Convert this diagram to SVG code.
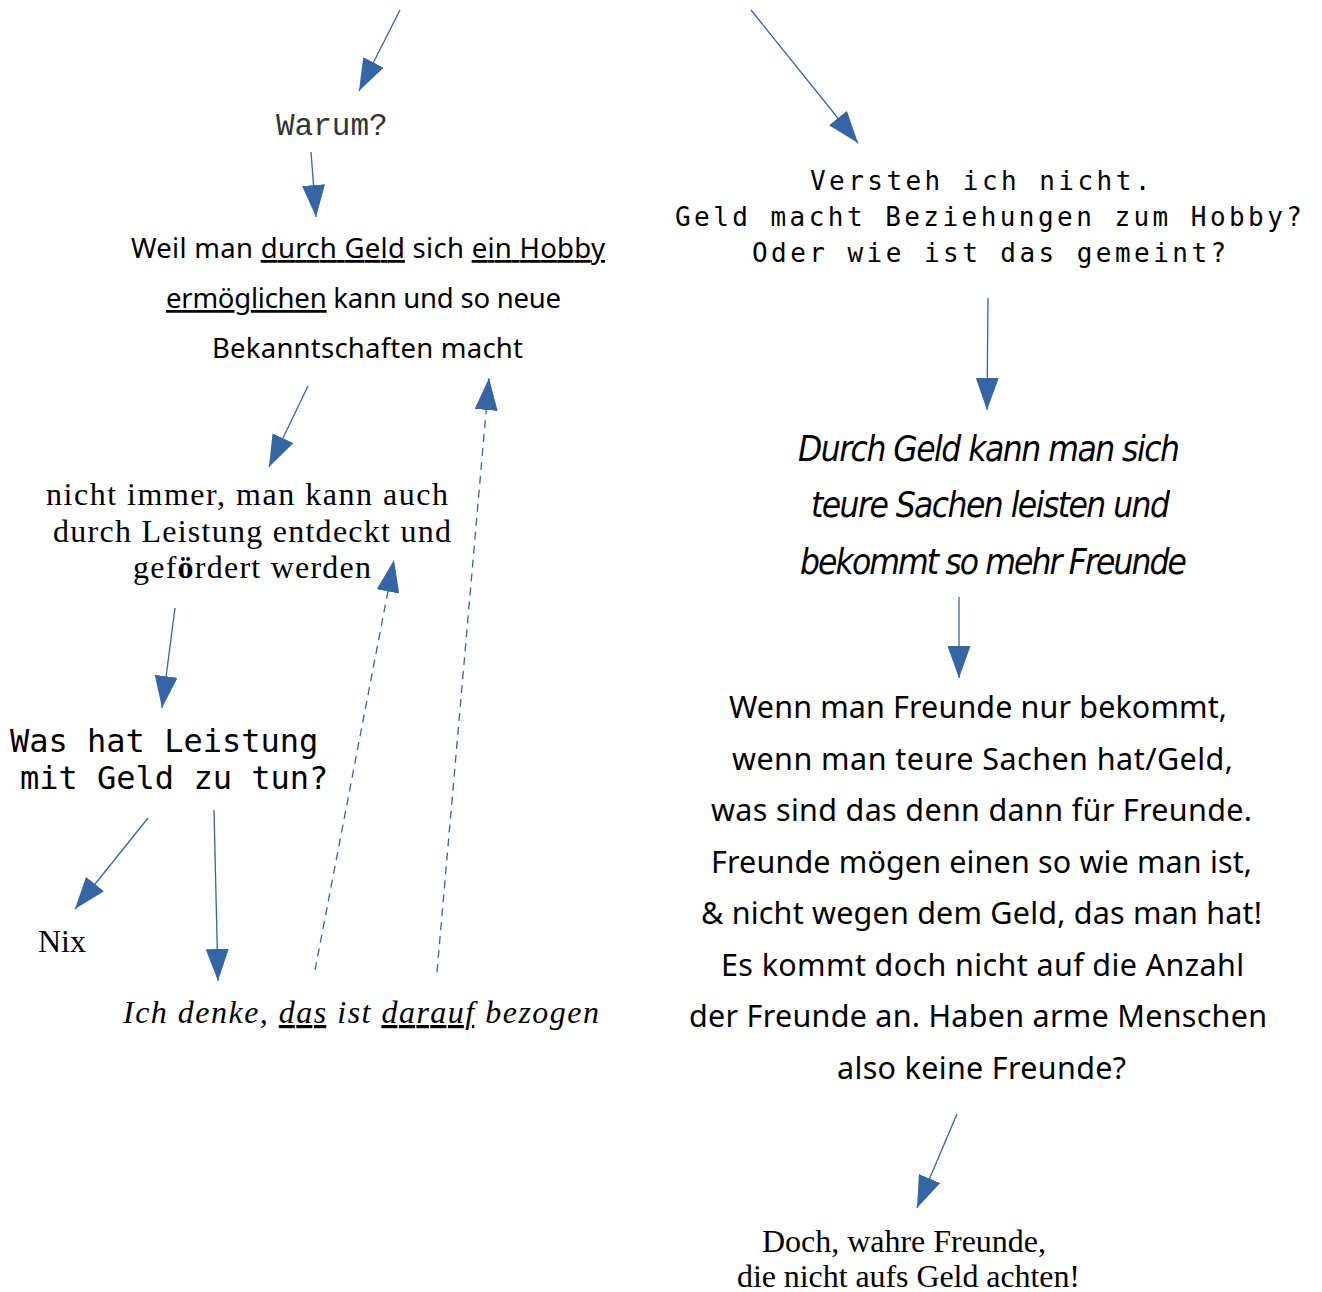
<svg xmlns="http://www.w3.org/2000/svg" width="1322" height="1292" viewBox="0 0 1322 1292">
<defs>
<style>
.c{stroke:#3465a4;stroke-width:1.3;fill:none;marker-end:url(#ah)}
.d{stroke-dasharray:8 6}
.cour{font-family:"Liberation Mono","DejaVu Sans Mono",monospace;font-size:31px;fill:#333}
.mono2{font-family:"DejaVu Sans Mono",monospace;font-size:26px;letter-spacing:3.45px;fill:#000}
.mono3{font-family:"DejaVu Sans Mono",monospace;font-size:32px;fill:#000}
.sans1{font-family:"Noto Sans","Open Sans",sans-serif;font-size:27.5px;fill:#000}
.sans2{font-family:"Noto Sans","Open Sans",sans-serif;font-size:30.5px;fill:#000}
.obl{font-family:"DejaVu Sans",sans-serif;font-stretch:condensed;font-style:italic;font-size:35px;fill:#000}
.ser{font-family:"Liberation Serif","Times New Roman",serif;font-size:32px;fill:#000}
.seri{font-family:"Liberation Serif","Times New Roman",serif;font-style:italic;font-size:32px;fill:#000}
.u{text-decoration:underline;text-decoration-skip-ink:none;text-decoration-thickness:2px}
</style>
<marker id="ah" viewBox="0 0 32 23" refX="32" refY="11.5" markerWidth="32" markerHeight="23" markerUnits="userSpaceOnUse" orient="auto">
<path d="M0,0 L32,11.5 L0,23 z" fill="#3465a4"/>
</marker>
</defs>
<rect width="1322" height="1292" fill="#fff"/>

<g id="connectors">
<line class="c" x1="400" y1="10" x2="359" y2="91"/>
<line class="c" x1="751" y1="10" x2="858" y2="143"/>
<line class="c" x1="311" y1="152" x2="316" y2="217"/>
<line class="c" x1="308" y1="386" x2="269" y2="467"/>
<line class="c" x1="175" y1="608" x2="162" y2="708"/>
<line class="c" x1="148" y1="818" x2="75" y2="909"/>
<line class="c" x1="214" y1="810" x2="218" y2="981"/>
<line class="c d" x1="315" y1="970" x2="394" y2="560"/>
<line class="c d" x1="437" y1="972" x2="489" y2="378"/>
<line class="c" x1="988" y1="298" x2="987" y2="410"/>
<line class="c" x1="959" y1="597" x2="959" y2="678"/>
<line class="c" x1="957" y1="1114" x2="917" y2="1208"/>
</g>

<g id="n-warum">
<text class="cour" x="276" y="135">Warum?</text>
</g>

<g id="n-weil">
<text class="sans1" x="131" y="258" textLength="474">Weil man <tspan class="u">durch Geld</tspan> sich <tspan class="u">ein Hobby</tspan></text>
<text class="sans1" x="166" y="308" textLength="395"><tspan class="u">ermöglichen</tspan> kann und so neue</text>
<text class="sans1" x="212" y="358" textLength="311">Bekanntschaften macht</text>
</g>

<g id="n-versteh">
<text class="mono2" x="810" y="190">Versteh ich nicht.</text>
<text class="mono2" x="675" y="226">Geld macht Beziehungen zum Hobby?</text>
<text class="mono2" x="752" y="262">Oder wie ist das gemeint?</text>
</g>

<g id="n-nicht-immer">
<text class="ser" x="46" y="505" textLength="402">nicht immer, man kann auch</text>
<text class="ser" x="53" y="542" textLength="398">durch Leistung entdeckt und</text>
<text class="ser" x="133" y="578" textLength="238">gef<tspan font-weight="bold">ö</tspan>rdert werden</text>
</g>

<g id="n-was-hat">
<text class="mono3" x="10" y="752">Was hat Leistung</text>
<text class="mono3" x="20" y="789">mit Geld zu tun?</text>
</g>

<g id="n-nix">
<text class="ser" x="38" y="952">Nix</text>
</g>

<g id="n-ich-denke">
<text class="seri" x="123" y="1023" textLength="476">Ich denke, <tspan class="u">das</tspan> ist <tspan class="u">darauf</tspan> bezogen</text>
</g>

<g id="n-durch-geld">
<text class="obl" x="798" y="461" textLength="382">Durch Geld kann man sich</text>
<text class="obl" x="811" y="517" textLength="359">teure Sachen leisten und</text>
<text class="obl" x="800" y="574" textLength="387">bekommt so mehr Freunde</text>
</g>

<g id="n-wenn-man">
<text class="sans2" x="729" y="718" textLength="498">Wenn man Freunde nur bekommt,</text>
<text class="sans2" x="732" y="770" textLength="501">wenn man teure Sachen hat/Geld,</text>
<text class="sans2" x="711" y="821" textLength="541">was sind das denn dann für Freunde.</text>
<text class="sans2" x="711" y="873" textLength="541">Freunde mögen einen so wie man ist,</text>
<text class="sans2" x="701" y="924" textLength="561">&amp; nicht wegen dem Geld, das man hat!</text>
<text class="sans2" x="721" y="976" textLength="523">Es kommt doch nicht auf die Anzahl</text>
<text class="sans2" x="689" y="1027" textLength="578">der Freunde an. Haben arme Menschen</text>
<text class="sans2" x="837" y="1079" textLength="289">also keine Freunde?</text>
</g>

<g id="n-doch">
<text class="ser" x="762" y="1252" textLength="284">Doch, wahre Freunde,</text>
<text class="ser" x="737" y="1287" textLength="343">die nicht aufs Geld achten!</text>
</g>
</svg>
